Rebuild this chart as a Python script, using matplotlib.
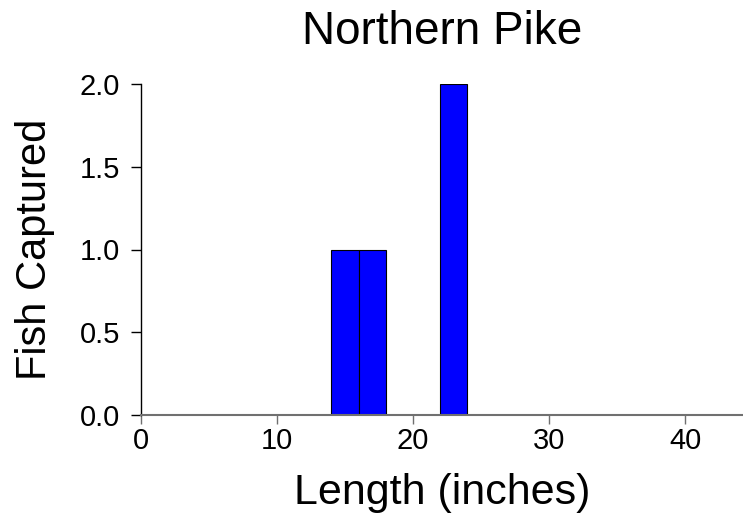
import matplotlib
matplotlib.use("Agg")
import matplotlib.pyplot as plt

bin_edges = [14, 16, 18, 20, 22, 24]
counts = [1, 1, 0, 0, 2]
xticks = [0, 10, 20, 30, 40]
yticks = [0.0, 0.5, 1.0, 1.5, 2.0]
title = "Northern Pike"
xlabel = "Length (inches)"
ylabel = "Fish Captured"

plt.rcParams['font.family'] = ['Liberation Sans', 'DejaVu Sans']

fig = plt.figure(figsize=(7.43, 5.16), dpi=100)
ax = fig.add_axes([141/743, 101/516, 602/743, 331/516])

lefts = bin_edges[:-1]
widths = [bin_edges[i+1] - bin_edges[i] for i in range(len(counts))]
for l, w, c in zip(lefts, widths, counts):
    if c > 0:
        ax.bar(l, c, width=w, align='edge', color='#0000FF', edgecolor='black', linewidth=0.8)

ax.set_xlim(0, 602/13.6)
ax.set_ylim(0, 2.0)
ax.set_xticks(xticks)
ax.set_yticks(yticks)
ax.set_xticklabels([str(t) for t in xticks])
ax.set_yticklabels([f"{t:.1f}" for t in yticks])

for s in ['top', 'right']:
    ax.spines[s].set_visible(False)
ax.spines['left'].set_color('black')
ax.spines['left'].set_linewidth(1.0)
ax.spines['bottom'].set_color('#707070')
ax.spines['bottom'].set_linewidth(1.5)

ax.tick_params(axis='y', length=7.2, width=1.0, color='black', labelsize=21, pad=8)
ax.tick_params(axis='x', length=6.5, width=1.0, color='#707070', labelsize=21, pad=2)

ax.set_title(title, fontsize=33, pad=29)
ax.set_xlabel(xlabel, fontsize=31, labelpad=13)
ax.set_ylabel(ylabel, fontsize=30, labelpad=18)

fig.savefig("out.png", dpi=100)
